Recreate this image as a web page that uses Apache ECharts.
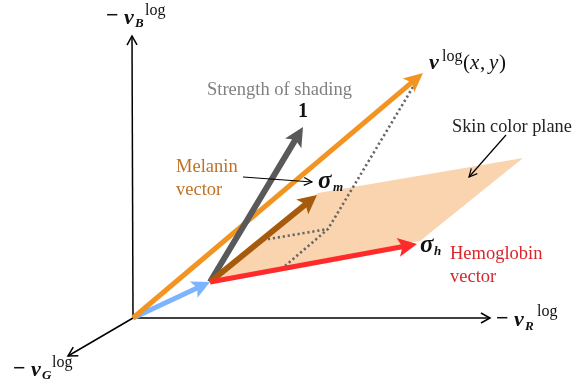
<!DOCTYPE html>
<html>
<head>
<meta charset="utf-8">
<script src="https://cdn.jsdelivr.net/npm/echarts@6/dist/echarts.min.js"></script>
<style>
  html, body { margin: 0; padding: 0; background: #fff; }
  #chart { width: 586px; height: 381px; }
</style>
</head>
<body>
<div id="chart"></div>
<script>
// Color-space diagram: log-RGB axes, skin color plane and its pigment vectors.
// All geometry lives in a plain value space (x to the right, y downward).

const origin = [133, 318];
const axisNames = ['B', 'R', 'G'];
const axisTips = [[132, 36], [490, 318], [68, 356]];

const vectorNames = ['illumination', 'observed', 'shading', 'melanin', 'hemoglobin'];
const vectorFrom = [[133, 318], [133, 318], [210, 282], [210, 282], [210, 282]];
const vectorTo = [[210, 282], [423, 73], [303, 127], [317, 195], [417, 244]];

const planeCorners = [[210, 282], [318, 193], [523, 158], [420, 241]];

const projectionPath = [[413, 87], [328, 229], [285, 266]];
const projectionBranch = [[263, 240], [328, 229]];

const pointerFrom = [[243, 177], [506, 135]];
const pointerTo = [[312, 182], [469, 177]];

// Drawing styles, keyed by the names in vectorNames
const vectorStyle = {
  illumination: { color: '#7db4ff', width: 5, head: 18, half: 9 },
  observed:     { color: '#f29422', width: 5, head: 19, half: 9 },
  shading:      { color: '#595959', width: 6, head: 19, half: 9.5 },
  melanin:      { color: '#a65a0c', width: 6, head: 19, half: 9.5 },
  hemoglobin:   { color: '#ff2b2b', width: 5, head: 19, half: 9.5 }
};

const SERIF = '"Liberation Serif", "Times New Roman", serif';

function unit(p1, p2) {
  const dx = p2[0] - p1[0], dy = p2[1] - p1[1];
  const len = Math.hypot(dx, dy) || 1;
  return [dx / len, dy / len];
}

// Thick vector with a filled, slightly notched head
function solidArrow(p1, p2, st) {
  const [ux, uy] = unit(p1, p2);
  const nx = -uy, ny = ux;
  const bx = p2[0] - ux * st.head, by = p2[1] - uy * st.head;
  const notch = st.head * 0.22;
  const mx = bx + ux * notch, my = by + uy * notch;
  return [
    { type: 'line', shape: { x1: p1[0], y1: p1[1], x2: mx + ux, y2: my + uy },
      style: { stroke: st.color, lineWidth: st.width, lineCap: 'butt' } },
    { type: 'polygon', shape: { points: [
        [p2[0], p2[1]], [bx + nx * st.half, by + ny * st.half], [mx, my], [bx - nx * st.half, by - ny * st.half]
      ] }, style: { fill: st.color } }
  ];
}

// Thin line ending in an open chevron
function openArrow(p1, p2, color, width, len, half) {
  const [ux, uy] = unit(p1, p2);
  const nx = -uy, ny = ux;
  const bx = p2[0] - ux * len, by = p2[1] - uy * len;
  return [
    { type: 'line', shape: { x1: p1[0], y1: p1[1], x2: p2[0], y2: p2[1] },
      style: { stroke: color, lineWidth: width } },
    { type: 'polyline', shape: { points: [
        [bx + nx * half, by + ny * half], [p2[0], p2[1]], [bx - nx * half, by - ny * half]
      ] }, style: { stroke: color, lineWidth: width, fill: null } }
  ];
}

function fragment(x, y, text, font, fill) {
  return { type: 'text', x: x, y: y, z: 100,
    style: { text: text, font: font, fill: fill || '#111', align: 'left', verticalAlign: 'middle' } };
}

const MINUS = 'bold 22px ' + SERIF;
const VEC = 'bold italic 22px ' + SERIF;
const SUB = 'bold italic 13px ' + SERIF;
const SUP = '16px ' + SERIF;
const SIGMA = 'bold italic 25px ' + SERIF;

const chart = echarts.init(document.getElementById('chart'), null, { renderer: 'canvas' });

const option = {
  animation: false,
  backgroundColor: '#ffffff',
  grid: { left: 0, right: 0, top: 0, bottom: 0 },
  xAxis: { type: 'value', min: 0, max: 586, show: false },
  yAxis: { type: 'value', min: 0, max: 381, inverse: true, show: false },
  series: [
    {
      // skin color plane
      type: 'custom', z: 1,
      data: [planeCorners.flat()],
      renderItem: function (params, api) {
        const pts = [];
        for (let i = 0; i < planeCorners.length; i++) {
          pts.push(api.coord([api.value(2 * i), api.value(2 * i + 1)]));
        }
        return { type: 'polygon', shape: { points: pts }, style: { fill: '#fad4ae' } };
      }
    },
    {
      // dotted projection lines
      type: 'custom', z: 2,
      data: [projectionPath.flat(), projectionBranch.flat()],
      renderItem: function (params, api) {
        const n = params.dataIndex === 0 ? projectionPath.length : projectionBranch.length;
        const pts = [];
        for (let i = 0; i < n; i++) pts.push(api.coord([api.value(2 * i), api.value(2 * i + 1)]));
        return { type: 'polyline', shape: { points: pts },
          style: { stroke: '#666666', lineWidth: 2.6, lineDash: [2.2, 2.8], fill: null } };
      }
    },
    {
      // coordinate axes
      type: 'custom', z: 3,
      data: axisTips.map(function (t) { return [origin[0], origin[1], t[0], t[1]]; }),
      renderItem: function (params, api) {
        const a = api.coord([api.value(0), api.value(1)]);
        const b = api.coord([api.value(2), api.value(3)]);
        return { type: 'group', children: openArrow(a, b, '#000', 1.5, 9, 5) };
      }
    },
    {
      // color vectors
      type: 'custom', z: 4,
      data: vectorNames.map(function (n, i) {
        return [vectorFrom[i][0], vectorFrom[i][1], vectorTo[i][0], vectorTo[i][1]];
      }),
      renderItem: function (params, api) {
        const a = api.coord([api.value(0), api.value(1)]);
        const b = api.coord([api.value(2), api.value(3)]);
        return { type: 'group', children: solidArrow(a, b, vectorStyle[vectorNames[params.dataIndex]]) };
      }
    },
    {
      // annotation pointers
      type: 'custom', z: 5,
      data: pointerFrom.map(function (p, i) { return [p[0], p[1], pointerTo[i][0], pointerTo[i][1]]; }),
      renderItem: function (params, api) {
        const a = api.coord([api.value(0), api.value(1)]);
        const b = api.coord([api.value(2), api.value(3)]);
        return { type: 'group', children: openArrow(a, b, '#000', 1.2, 8, 4) };
      }
    }
  ],
  graphic: [
    // axis names
    fragment(106, 16, '\u2212', MINUS),
    fragment(124, 18, 'v', VEC),
    fragment(135, 24, 'B', SUB),
    fragment(145, 11, 'log', SUP),

    fragment(496, 319, '\u2212', MINUS),
    fragment(514, 320, 'v', VEC),
    fragment(525, 327, 'R', SUB),
    fragment(537, 312, 'log', SUP),

    fragment(13, 369, '\u2212', MINUS),
    fragment(31, 370, 'v', VEC),
    fragment(42, 376, 'G', SUB),
    fragment(52, 363, 'log', SUP),

    // observed color
    fragment(429, 63, 'v', VEC),
    fragment(442, 57, 'log', SUP),
    fragment(463, 63, '(', '21px ' + SERIF),
    fragment(470, 63, 'x', 'italic 21px ' + SERIF),
    fragment(480, 63, ',', '21px ' + SERIF),
    fragment(489, 63, 'y', 'italic 21px ' + SERIF),
    fragment(499, 63, ')', '21px ' + SERIF),

    // shading
    fragment(207, 90, 'Strength of shading', '18.5px ' + SERIF, '#808080'),
    fragment(298, 112, '1', 'bold 20px ' + SERIF),

    // melanin
    fragment(176, 167, 'Melanin', '18.5px ' + SERIF, '#bf7226'),
    fragment(176, 190, 'vector', '18.5px ' + SERIF, '#bf7226'),
    fragment(318, 182, '\u03c3', SIGMA),
    fragment(333, 188, 'm', SUB),

    // hemoglobin
    fragment(420, 246, '\u03c3', SIGMA),
    fragment(434, 252, 'h', SUB),
    fragment(450, 254, 'Hemoglobin', '18.5px ' + SERIF, '#d9262c'),
    fragment(450, 277, 'vector', '18.5px ' + SERIF, '#d9262c'),

    // plane name
    fragment(452, 127, 'Skin color plane', '18.3px ' + SERIF, '#222')
  ]
};

chart.setOption(option);
</script>
</body>
</html>
